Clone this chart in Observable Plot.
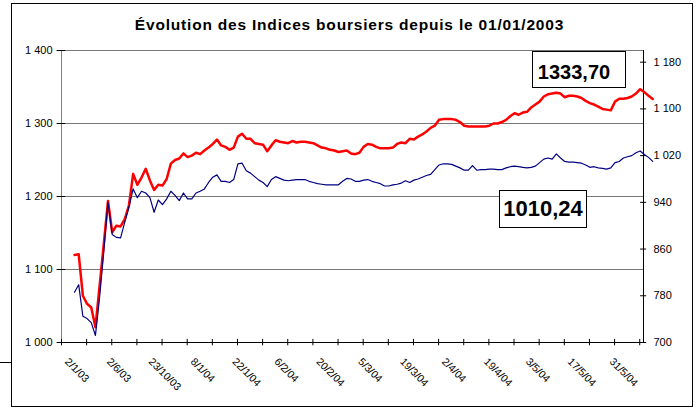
<!DOCTYPE html>
<html>
<head>
<meta charset="utf-8">
<script src="https://cdn.jsdelivr.net/npm/d3@7"></script>
<script src="https://cdn.jsdelivr.net/npm/@observablehq/plot@0.6"></script>
<style>
  html, body { margin: 0; padding: 0; background: #fff; }
  #wrap { position: relative; width: 699px; height: 408px; overflow: hidden; font-family: "Liberation Sans", Arial, sans-serif; }
  #frame { position: absolute; left: 11px; top: 3px; width: 680px; height: 402px; border: 1px solid #000; }
  #stray { position: absolute; left: 0; top: 362px; width: 11px; height: 1px; background: #000; }
  #title { position: absolute; left: 0; top: 16px; width: 699px; text-align: center; font-weight: bold; font-size: 15.5px; letter-spacing: 0.8px; color: #000; }
  #chart { position: absolute; left: 0; top: 40px; }
  .box { position: absolute; border: 1px solid #000; background: #fff; box-sizing: border-box; display: flex; align-items: center; justify-content: center; font-weight: bold; color: #000; }
  #box1 { left: 532px; top: 51px; width: 94px; height: 37px; font-size: 20px; padding-top: 5px; padding-right: 10px; }
  #box2 { left: 499px; top: 190px; width: 88px; height: 38px; font-size: 22px; }
</style>
</head>
<body>
<div id="wrap">
  <div id="frame"></div>
  <div id="stray"></div>
  <div id="title"></div>
  <div id="chart"></div>
  <div class="box" id="box1"></div>
  <div class="box" id="box2"></div>
</div>
<script>
const titleText = "Évolution des Indices boursiers depuis le 01/01/2003";

// Left-axis index (red)
const redValues = [
  1120, 1121, 1064, 1053, 1048, 1021, 1078, 1135, 1194, 1151,
  1160, 1159, 1169, 1188, 1231, 1216, 1226, 1238, 1222, 1209,
  1216, 1215, 1224, 1245, 1250, 1252, 1259, 1254, 1256, 1260,
  1258, 1263, 1267, 1272, 1278, 1270, 1268, 1264, 1267, 1282,
  1286, 1279, 1279, 1273, 1272, 1271, 1262, 1270, 1277, 1275,
  1274, 1273, 1276, 1274, 1275, 1275, 1274, 1273, 1270, 1267,
  1266, 1264, 1263, 1261, 1262, 1263, 1259, 1258, 1260, 1268,
  1272, 1271, 1268, 1266, 1266, 1266, 1267, 1272, 1274, 1273,
  1279, 1278, 1282, 1285, 1289, 1294, 1297, 1305, 1306, 1306,
  1306, 1305, 1302, 1297, 1296, 1296, 1296, 1296, 1296, 1297,
  1300, 1300, 1302, 1305, 1310, 1314, 1312, 1315, 1316, 1322,
  1326, 1330, 1337, 1340, 1341, 1342, 1341, 1336, 1338, 1338,
  1337, 1335, 1331, 1328, 1326, 1323, 1320, 1319, 1318, 1330,
  1334, 1334, 1335, 1337, 1341, 1347, 1343, 1338, 1333.70
];

// Right-axis index (blue)
const blueValues = [
  786, 799, 745, 741, 734, 712, 778, 857, 940, 885,
  880, 879, 906, 932, 963, 948, 959, 956, 948, 923,
  944, 936, 946, 959, 952, 943, 956, 946, 946, 956,
  959, 963, 974, 983, 987, 976, 976, 974, 979, 1006,
  1007, 994, 990, 984, 978, 974, 967, 979, 984, 981,
  978, 977, 978, 979, 979, 979, 976, 974, 972, 971,
  970, 970, 970, 970, 976, 981, 980, 976, 976, 978,
  979, 976, 974, 972, 968, 968, 970, 971, 973, 977,
  974, 978, 980, 983, 986, 988, 996, 1004, 1006, 1006,
  1005, 1002, 999, 995, 995, 1003, 995, 996, 996, 997,
  997, 996, 996, 999, 1001, 1002, 1001, 1000, 999, 1000,
  1002, 1008, 1014, 1016, 1014, 1023, 1016, 1010, 1009, 1009,
  1008, 1007, 1004, 1000, 1001, 999, 998, 997, 999, 1008,
  1010, 1016, 1018, 1020, 1025, 1028, 1022, 1017, 1010.24
];

const xLabels = ["2/1/03", "2/6/03", "23/10/03", "8/1/04", "22/1/04", "6/2/04", "20/2/04",
                 "5/3/04", "19/3/04", "2/4/04", "19/4/04", "3/5/04", "17/5/04", "31/5/04"];
const leftTicks = [1000, 1100, 1200, 1300, 1400];
const rightTicks = [700, 780, 860, 940, 1020, 1100, 1180];

// category axis layout (in category units)
const xmin = -3.1, xmax = 135.8;
const tickEvery = 6, labelEvery = 10, labelStart = -1.9;
const tickIdx = d3.range(Math.floor((xmax - xmin) / tickEvery) + 1).map(k => xmin + k * tickEvery);

// right axis 700..1200 mapped onto left 1000..1400
const toLeft = b => 1000 + (b - 700) * (400 / 500);

const fr = d3.formatLocale({decimal: ",", thousands: " ", grouping: [3], currency: ["", " €"]});
const fmtInt = fr.format(",");
const fmtVal = fr.format(".2f");

const data = redValues.map((v, i) => ({i, red: v, blue: blueValues[i]}));

document.getElementById("title").textContent = titleText;

const chart = Plot.plot({
  width: 699,
  height: 368,
  marginLeft: 61,
  marginRight: 56,
  marginTop: 10,
  marginBottom: 66,
  x: {domain: [xmin, xmax], axis: null},
  y: {domain: [1000, 1400], axis: null},
  style: {fontFamily: "'Liberation Sans', Arial, sans-serif", background: "transparent", color: "#000"},
  marks: [
    Plot.ruleY(leftTicks.slice(1), {y: d => d, stroke: "#777", strokeOpacity: 1}),
    Plot.ruleX([xmin], {x: d => d, y1: () => 1000, y2: () => 1400, stroke: "#808080"}),
    Plot.ruleX([xmax], {x: d => d, y1: () => 1000, y2: () => 1400, stroke: "#000"}),
    Plot.ruleY([1000], {y: d => d, x1: () => xmin, x2: () => xmax, stroke: "#000"}),
    Plot.ruleY(leftTicks, {y: d => d, x1: () => xmin - 1.05, x2: () => xmin + 1.0, stroke: "#000"}),
    Plot.ruleY(rightTicks, {y: d => toLeft(d), x1: () => xmax - 0.7, x2: () => xmax + 0.75, stroke: "#000"}),
    Plot.ruleX(tickIdx, {x: d => d, y1: () => 995.5, y2: () => 1004.2, stroke: "#000"}),
    Plot.text(leftTicks, {x: () => xmin, y: d => d, text: d => fmtInt(d), textAnchor: "end", dx: -9, fontSize: 11, fill: "#000", ariaLabel: "ylab"}),
    Plot.text(rightTicks, {x: () => xmax, y: d => toLeft(d), text: d => fmtInt(d), textAnchor: "start", dx: 10, fontSize: 11, fill: "#000", ariaLabel: "ylab"}),
    Plot.text(xLabels, {x: (d, i) => labelStart + labelEvery * i, y: () => 1000, text: d => d, rotate: 45, textAnchor: "start", lineAnchor: "top", dx: 3, dy: 14.5, fontSize: 10.5, fill: "#000"}),
    Plot.line(data, {x: "i", y: "red", stroke: "#ff0000", strokeWidth: 2.5}),
    Plot.line(data, {x: "i", y: d => toLeft(d.blue), stroke: "#000080", strokeWidth: 1.2})
  ]
});
chart.querySelectorAll('g[aria-label="ylab"] text').forEach(t => t.setAttribute("letter-spacing", "1.3"));
document.getElementById("chart").appendChild(chart);

document.getElementById("box1").textContent = fmtVal(redValues[redValues.length - 1]);
document.getElementById("box2").textContent = fmtVal(blueValues[blueValues.length - 1]);
</script>
</body>
</html>
